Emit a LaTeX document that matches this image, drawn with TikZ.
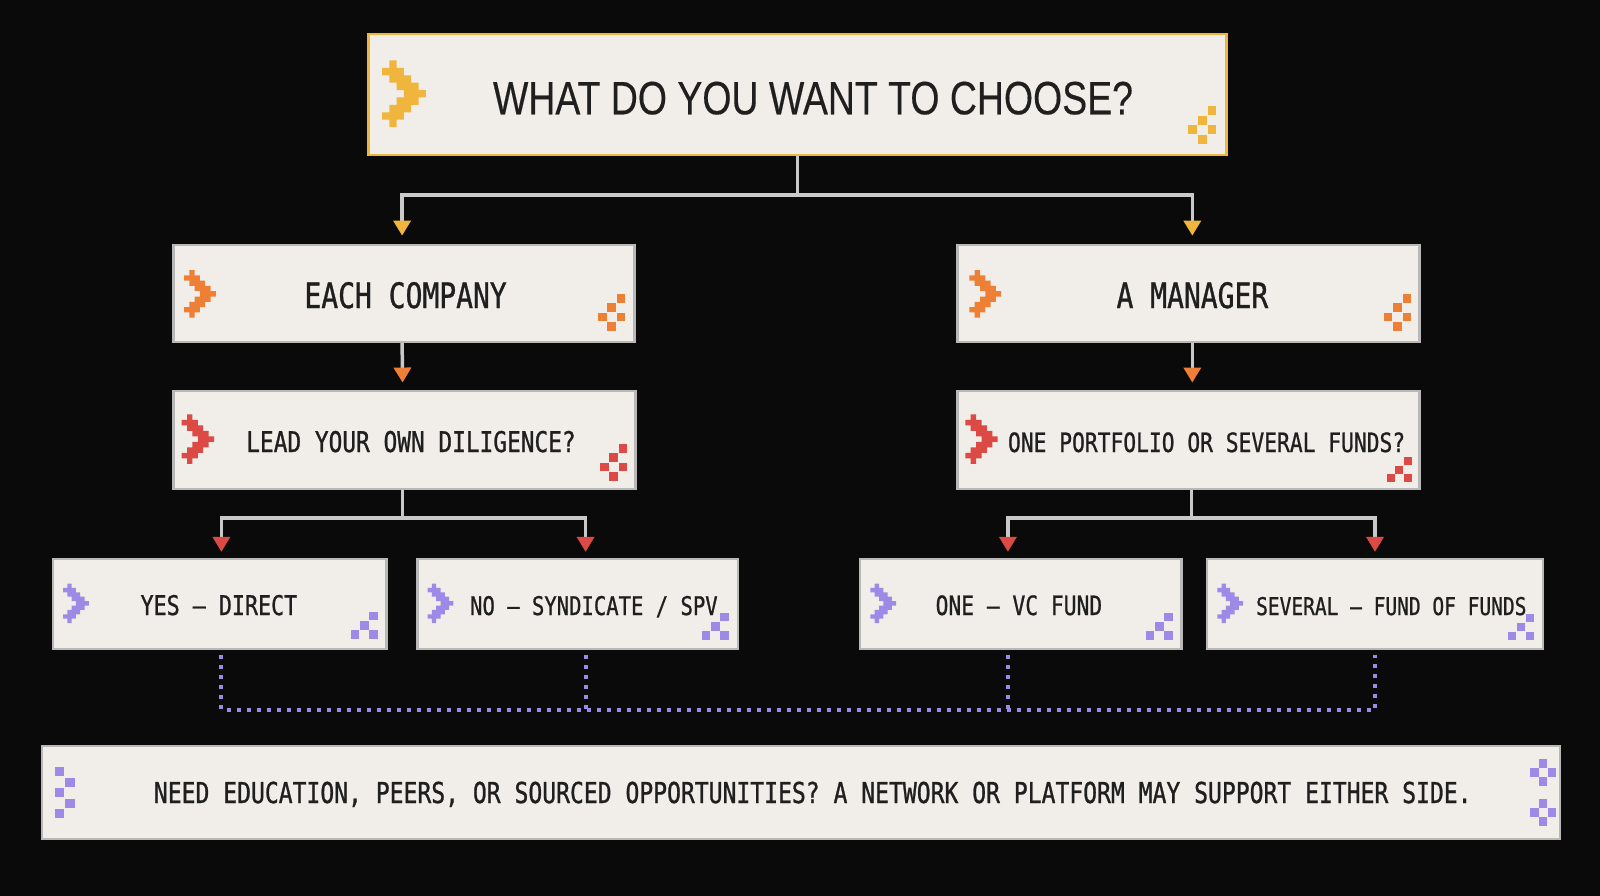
\documentclass[tikz,border=0pt]{standalone}
\usepackage{fontspec}
\usetikzlibrary{arrows.meta,calc}
\newfontfamily\monof[FakeStretch=0.8,FakeBold=0.9]{DejaVu Sans Mono}
\newfontfamily\titlef[FakeStretch=0.8,FakeBold=0.3]{Liberation Sans}
\definecolor{bg}{HTML}{0A0A0A}
\definecolor{boxfill}{HTML}{F1EEEA}
\definecolor{boxline}{HTML}{B8B8B8}
\definecolor{ylw}{HTML}{EFB53C}
\definecolor{org}{HTML}{EE8036}
\definecolor{rd}{HTML}{DC4A45}
\definecolor{prp}{HTML}{9C8BE6}
\definecolor{lnk}{HTML}{C9C9C9}
\definecolor{ink}{HTML}{1F1F1F}
\tikzset{
  box/.style={draw=boxline, line width=2.5pt, fill=boxfill, inner sep=0pt},
  txt/.style={text=ink, anchor=base, inner sep=0pt},
  conn/.style={draw=lnk, line width=3.5pt},
  dotline/.style={draw=prp, line width=4pt, dash pattern=on 4pt off 6pt},
  chev/.pic={\fill[#1] (2,0) -- (2,1) -- (3,1) -- (3,2) -- (4,2) -- (4,3) -- (5,3) -- (5,4)
      -- (6,4) -- (6,5) -- (5,5) -- (5,6) -- (4,6) -- (4,7) -- (3,7) -- (3,8) -- (2,8) -- (2,9)
      -- (1,9) -- (1,8) -- (0,8) -- (0,7) -- (1,7) -- (1,6) -- (2,6) -- (2,5) -- (3,5) -- (3,4)
      -- (2,4) -- (2,3) -- (1,3) -- (1,2) -- (0,2) -- (0,1) -- (1,1) -- (1,0) -- cycle;},
  clA/.pic={\foreach \c/\r in {2/0,1/1,0/2,2/2,1/3}
      \fill[#1] (\c,\r) rectangle (\c+0.92,\r+0.92);},
  clB/.pic={\foreach \c/\r in {2/0,1/1,0/2,2/2}
      \fill[#1] (\c,\r) rectangle (\c+0.92,\r+0.92);},
  clZ/.pic={\foreach \c/\r in {0/0,1/1,0/2,1/3,0/4}
      \fill[#1] (\c,\r) rectangle (\c+0.88,\r+0.88);},
  clP/.pic={\foreach \c/\r in {1/0,0/1,2/1,1/2}
      \fill[#1] (\c,\r) rectangle (\c+0.98,\r+0.98);},
}
\begin{document}
\begin{tikzpicture}[x=1pt,y=-1pt]
\fill[bg] (0,0) rectangle (1600,896);
\useasboundingbox (0,0) rectangle (1600,896);

% boxes
\node[box, draw=ylw, minimum width=858pt, minimum height=121pt] (top) at (797.5,94.4) {};
\node[box, minimum width=461pt, minimum height=97pt] (each) at (404.1,293.4) {};
\node[box, minimum width=462pt, minimum height=97pt] (mgr) at (1188.3,293.4) {};
\node[box, minimum width=462pt, minimum height=98pt] (lead) at (404.6,439.8) {};
\node[box, minimum width=462pt, minimum height=98pt] (port) at (1188.3,439.8) {};
\node[box, minimum width=333.6pt, minimum height=90pt] (yes) at (219.9,604.1) {};
\node[box, minimum width=320.4pt, minimum height=90pt] (no) at (577.6,604.1) {};
\node[box, minimum width=321.4pt, minimum height=90pt] (one) at (1020.9,604.1) {};
\node[box, minimum width=335.7pt, minimum height=90pt] (sev) at (1375,604.1) {};
\node[box, minimum width=1518.4pt, minimum height=92.9pt] (net) at (801,792.3) {};

% texts
\node[txt, font=\titlef\fontsize{46.8pt}{50pt}\selectfont] (topT) at (813,114.3) {WHAT DO YOU WANT TO CHOOSE?};
\node[txt, font=\monof\fontsize{35pt}{40pt}\selectfont] (eachT) at (405.6,308) {EACH COMPANY};
\node[txt, font=\monof\fontsize{35pt}{40pt}\selectfont] (mgrT) at (1192.4,308) {A MANAGER};
\node[txt, font=\monof\fontsize{28.5pt}{32pt}\selectfont] (leadT) at (411,452) {LEAD YOUR OWN DILIGENCE?};
\node[txt, font=\monof\fontsize{26.6pt}{30pt}\selectfont] (portT) at (1206.6,452) {ONE PORTFOLIO OR SEVERAL FUNDS?};
\node[txt, font=\monof\fontsize{27.1pt}{30pt}\selectfont] (yesT) at (218.9,615) {YES — DIRECT};
\node[txt, font=\monof\fontsize{25.7pt}{30pt}\selectfont] (noT) at (593.9,615) {NO — SYNDICATE / SPV};
\node[txt, font=\monof\fontsize{26.6pt}{30pt}\selectfont] (oneT) at (1018.9,615) {ONE — VC FUND};
\node[txt, font=\monof\fontsize{24.4pt}{30pt}\selectfont] (sevT) at (1391.3,615) {SEVERAL — FUND OF FUNDS};
\node[txt, font=\monof\fontsize{28.8pt}{32pt}\selectfont] (netT) at (812.8,803) {NEED EDUCATION, PEERS, OR SOURCED OPPORTUNITIES? A NETWORK OR PLATFORM MAY SUPPORT EITHER SIDE.};

% icons
\pic[xscale=7.3,yscale=7.4] at (382,60.5) {chev=ylw};
\pic[xscale=5.3,yscale=5.3] at (184,270) {chev=org};
\pic[xscale=5.3,yscale=5.3] at (969.4,270) {chev=org};
\pic[xscale=5.4,yscale=5.5] at (181.6,414.3) {chev=rd};
\pic[xscale=5.4,yscale=5.5] at (965.3,414.3) {chev=rd};
\pic[xscale=4.3,yscale=4.4] at (63,583.5) {chev=prp};
\pic[xscale=4.3,yscale=4.4] at (427.6,583.5) {chev=prp};
\pic[xscale=4.3,yscale=4.4] at (870.4,583.5) {chev=prp};
\pic[xscale=4.3,yscale=4.4] at (1217.3,583.5) {chev=prp};

\pic[scale=9.75] at (1188,106) {clA=ylw};
\pic[scale=9.4] at (598,294) {clA=org};
\pic[scale=9.4] at (1383.7,294) {clA=org};
\pic[scale=9.4] at (600,444) {clA=rd};
\pic[scale=8.6] at (1386.8,457) {clB=rd};
\pic[scale=9.2] at (351,612) {clB=prp};
\pic[scale=9.2] at (702,613) {clB=prp};
\pic[scale=9.2] at (1146,613) {clB=prp};
\pic[scale=9.0] at (1508,614) {clB=prp};
\pic[scale=10.4] at (55,767.3) {clZ=prp};
\pic[scale=8.8] at (1530,759.3) {clP=prp};
\pic[scale=8.8] at (1530,799.3) {clP=prp};

% branch coordinates
\coordinate (eT) at ([xshift=-2pt,yshift=8pt]each.north);
\coordinate (mT) at ([xshift=4pt,yshift=8pt]mgr.north);
\coordinate (yT) at ([xshift=1.5pt,yshift=6pt]yes.north);
\coordinate (nT) at ([xshift=8pt,yshift=6pt]no.north);
\coordinate (oT) at ([xshift=-13pt,yshift=6pt]one.north);
\coordinate (sT) at ([yshift=6pt]sev.north);
\coordinate (yB) at ([xshift=1.5pt,yshift=-5pt]yes.south);
\coordinate (nB) at ([xshift=8pt,yshift=-5pt]no.south);
\coordinate (oB) at ([xshift=-13pt,yshift=-5pt]one.south);
\coordinate (sB) at ([yshift=-5pt]sev.south);
\coordinate (bus) at (0,710);

% connectors
\draw[conn, -{Triangle[width=17pt,length=15pt,color=ylw]}] (top.south) -- ++(0,39) -| (eT);
\draw[conn, -{Triangle[width=17pt,length=15pt,color=ylw]}] (top.south) -- ++(0,39) -| (mT);
\draw[conn, -{Triangle[width=17pt,length=15pt,color=org]}] ([xshift=-2pt]each.south) -- ([xshift=-2pt,yshift=7pt]lead.north);
\draw[conn, -{Triangle[width=17pt,length=15pt,color=org]}] ([xshift=4pt]mgr.south) -- ([xshift=4pt,yshift=7pt]port.north);
\draw[conn, -{Triangle[width=17pt,length=15pt,color=rd]}] ([xshift=-2pt]lead.south) -- ++(0,28) -| (yT);
\draw[conn, -{Triangle[width=17pt,length=15pt,color=rd]}] ([xshift=-2pt]lead.south) -- ++(0,28) -| (nT);
\draw[conn, -{Triangle[width=17pt,length=15pt,color=rd]}] ([xshift=3pt]port.south) -- ++(0,28) -| (oT);
\draw[conn, -{Triangle[width=17pt,length=15pt,color=rd]}] ([xshift=3pt]port.south) -- ++(0,28) -| (sT);

\draw[dotline] (yB) -- (yB |- bus) -- (sB |- bus) -- (sB);
\draw[dotline] (nB) -- (nB |- bus);
\draw[dotline] (oB) -- (oB |- bus);
\end{tikzpicture}
\end{document}
